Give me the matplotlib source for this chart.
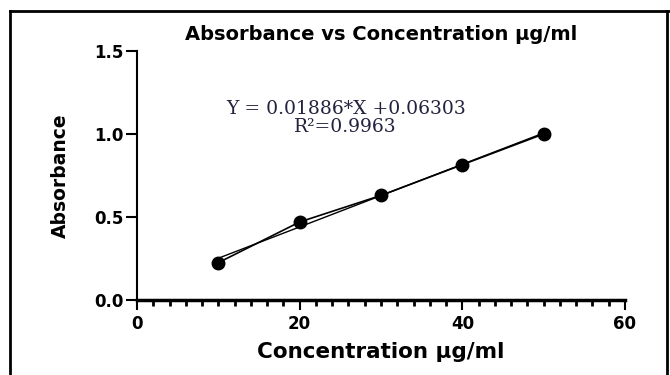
import matplotlib
matplotlib.use("Agg")
import matplotlib.pyplot as plt
from matplotlib.lines import Line2D
from matplotlib.ticker import MultipleLocator

# data
concentration = [10, 20, 30, 40, 50]
absorbance = [0.225, 0.47, 0.63, 0.815, 1.0]

# regression shown on the chart
slope = 0.01886
intercept = 0.06303
r_squared = 0.9963

plt.rcParams['font.family'] = ['DejaVu Sans']
plt.rcParams['font.weight'] = 'bold'

fig = plt.figure(figsize=(6.7, 3.75), dpi=100)
ax = fig.add_axes([0.2045, 0.2, 0.7283, 0.664])

# data joined point to point
ax.plot(concentration, absorbance, color='black', linewidth=1.2,
        marker='o', markersize=9, zorder=3)

# fitted line
fit_x = [concentration[0], concentration[-1]]
fit_y = [slope * x + intercept for x in fit_x]
ax.plot(fit_x, fit_y, color='black', linewidth=1.0, zorder=2)

ax.set_xlim(0, 60)
ax.set_ylim(0, 1.5)
ax.set_xticks([0, 20, 40, 60])
ax.set_yticks([0.0, 0.5, 1.0, 1.5])
ax.set_yticklabels(['0.0', '0.5', '1.0', '1.5'])
ax.xaxis.set_minor_locator(MultipleLocator(2))

for side in ['top', 'right']:
    ax.spines[side].set_visible(False)
ax.spines['left'].set_linewidth(1.5)
ax.spines['bottom'].set_linewidth(2.5)

ax.tick_params(axis='x', which='major', direction='out', length=7, width=1.5,
               labelsize=12, pad=4)
ax.tick_params(axis='x', which='minor', direction='out', length=4, width=2)
ax.tick_params(axis='y', which='major', direction='out', length=8, width=1.5,
               labelsize=12, pad=2)
for lab in ax.get_xticklabels() + ax.get_yticklabels():
    lab.set_fontweight('bold')

ax.set_title('Absorbance vs Concentration µg/ml', fontsize=14,
             fontweight='bold', pad=8)
ax.set_xlabel('Concentration µg/ml', fontsize=15.5, fontweight='bold', labelpad=6)
ax.set_ylabel('Absorbance', fontsize=13.5, fontweight='bold', labelpad=17)

# equation text
eq_color = '#23233f'
ax.text(25.7, 1.15, 'Y = %.5f*X +%.5f' % (slope, intercept),
        fontsize=13.5, family='DejaVu Serif', fontweight='normal',
        color=eq_color, ha='center', va='center')
ax.text(25.6, 1.04, 'R²=%.4f' % r_squared,
        fontsize=13.5, family='DejaVu Serif', fontweight='normal',
        color=eq_color, ha='center', va='center')

# frame around the picture
fig.add_artist(Line2D([0.015, 1.0], [0.972, 0.972], color='black',
                      linewidth=2, transform=fig.transFigure))
fig.add_artist(Line2D([0.015, 0.015], [0.0, 0.972], color='black',
                      linewidth=2, transform=fig.transFigure))
fig.add_artist(Line2D([0.995, 0.995], [0.0, 0.972], color='black',
                      linewidth=2, transform=fig.transFigure))

fig.savefig('out.png', dpi=100)
